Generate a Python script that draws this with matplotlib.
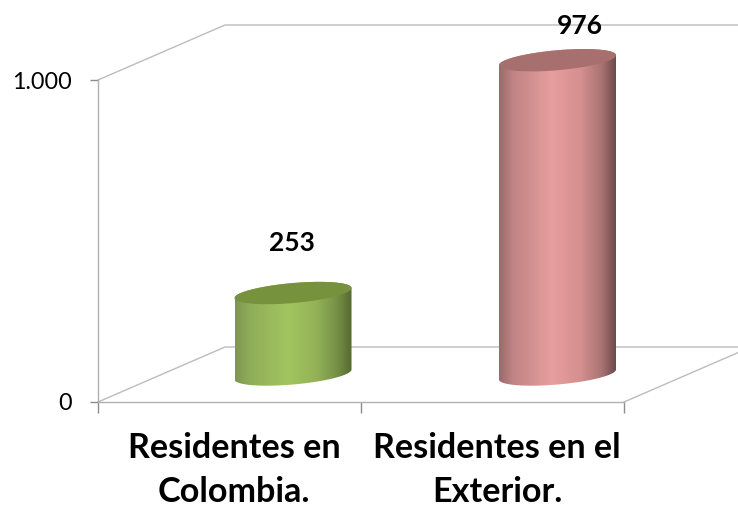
import numpy as np
import matplotlib
matplotlib.use("Agg")
import matplotlib.pyplot as plt
from matplotlib.colors import LinearSegmentedColormap
from matplotlib.patches import Polygon

categories = ["Residentes en\nColombia.", "Residentes en el\nExterior."]
values = [253, 976]
value_labels = ["253", "976"]
y_ticks = [0, 1000]
y_tick_labels = ["0", "1.000"]
bar_stops = [
    [(0.0, "#7f9650"), (0.12, "#8fac58"), (0.45, "#a3c55f"), (0.7, "#93b257"), (0.88, "#748f45"), (1.0, "#55692f")],
    [(0.0, "#9a6a6a"), (0.12, "#c08484"), (0.45, "#e79e9e"), (0.7, "#d58f8f"), (0.88, "#a87373"), (1.0, "#6e4a4a")],
]
cap_colors = ["#76923c", "#a86f6f"]

W, H = 738, 509
# pixels of the reference: front plane of the 3d box
x0_px, x2_px = 98, 624
y0_px, y1000_px = 402, 80
depth_px = (127, 55)
sx = 2 / (x2_px - x0_px)
sy = 1000 / (y0_px - y1000_px)
dep_x, dep_y = depth_px[0] * sx, depth_px[1] * sy

fig = plt.figure(figsize=(W / 100, H / 100), dpi=100)
ax = fig.add_axes([0, 0, 1, 1])
ax.set_xlim(-x0_px * sx, (W - x0_px) * sx)
ax.set_ylim((y0_px - H) * sy, y0_px * sy)
ax.patch.set_visible(False)

for s in ["top", "right"]:
    ax.spines[s].set_visible(False)
ax.spines["left"].set_position(("data", 0))
ax.spines["bottom"].set_position(("data", 0))
ax.spines["left"].set_bounds(0, 1000)
ax.spines["bottom"].set_bounds(0, 2)
ax.spines["left"].set_color("#b0b0b0")
ax.spines["bottom"].set_color("#b0b0b0")
ax.spines["left"].set_linewidth(1.0)
ax.spines["bottom"].set_linewidth(1.0)

ax.set_yticks(y_ticks)
ax.set_yticklabels(y_tick_labels, fontsize=16.8, family="Lato", color="black")
ax.set_xticks([0, 1, 2])
ax.set_xticklabels([])
ax.tick_params(axis="y", length=6, width=1.0, color="#8c8c8c", pad=13)
ax.tick_params(axis="x", length=8, width=1.0, color="#8c8c8c")

# walls and floor
wall = "#bcbcbc"
ax.plot([0, dep_x, 2 + dep_x], [1000, 1000 + dep_y, 1000 + dep_y], color=wall, lw=1.0, zorder=1)
ax.plot([0, dep_x, 2 + dep_x], [0, dep_y, dep_y], color=wall, lw=1.0, zorder=1)
ax.plot([2, 2 + dep_x], [0, dep_y], color=wall, lw=1.0, zorder=1)

# cylinders
t_low = np.linspace(np.pi, 2 * np.pi, 80)
t_up = np.linspace(0, np.pi, 80)
t_all = np.linspace(0, 2 * np.pi, 160)


def ell(t, cx, cy):
    return cx + 58.5 * sx * np.cos(t), cy + (5 * np.cos(t) + 10 * np.sin(t)) * sy


for i, v in enumerate(values):
    cx = i + 0.5 + dep_x / 2 + (i * 1.5) * sx
    cy = dep_y / 2
    bx, by = ell(t_low, cx, cy)
    tx, ty = ell(t_up, cx, cy + v)
    body = Polygon(np.c_[np.r_[bx, tx], np.r_[by, ty]], closed=True, fc="none", ec="none", zorder=2)
    ax.add_patch(body)
    cmap = LinearSegmentedColormap.from_list("c%d" % i, bar_stops[i])
    im = ax.imshow(np.linspace(0, 1, 256).reshape(1, -1), cmap=cmap, aspect="auto",
                   extent=[cx - 58.5 * sx, cx + 58.5 * sx, cy - 20 * sy, cy + v + 20 * sy],
                   interpolation="bilinear", zorder=2)
    im.set_clip_path(body)
    ex, ey = ell(t_all, cx, cy + v)
    ax.fill(ex, ey, color=cap_colors[i], lw=0, zorder=3)

ax.set_xlim(-x0_px * sx, (W - x0_px) * sx)
ax.set_ylim((y0_px - H) * sy, y0_px * sy)

# value labels, placed by hand in the original
label_pos = [((292 - x0_px) * sx, (y0_px - 251) * sy), ((580 - x0_px) * sx, (y0_px - 34) * sy)]
for (lx, ly), s in zip(label_pos, value_labels):
    ax.text(lx, ly, s, ha="center", va="baseline", fontsize=19, fontweight="bold", family="Lato", color="black", zorder=5)

cat_x = [(234 - x0_px) * sx, (497 - x0_px) * sx]
for cxx, s in zip(cat_x, categories):
    l1, l2 = s.split("\n")
    ax.text(cxx, (y0_px - 458) * sy, l1, ha="center", va="baseline", fontsize=24.6, fontweight="bold", family="Lato", color="black")
    ax.text(cxx, (y0_px - 502) * sy, l2, ha="center", va="baseline", fontsize=24.6, fontweight="bold", family="Lato", color="black")

fig.savefig("out.png", dpi=100, facecolor="white")
